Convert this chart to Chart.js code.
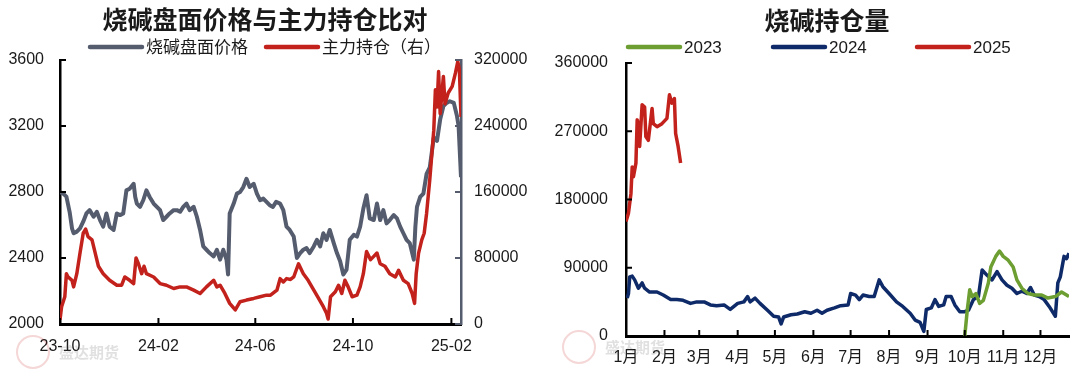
<!DOCTYPE html>
<html>
<head>
<meta charset="utf-8">
<script src="https://cdn.jsdelivr.net/npm/chart.js@4.4.1/dist/chart.umd.min.js"></script>
<style>
  html, body { margin: 0; padding: 0; background: #fff; }
  #wrap { position: relative; width: 1080px; height: 375px; }
  .box { position: absolute; top: 0; width: 540px; height: 375px; }
</style>
</head>
<body>
<div id="wrap">
  <div class="box" style="left:0"><canvas id="left" width="540" height="375"></canvas></div>
  <div class="box" style="left:540px"><canvas id="right" width="540" height="375"></canvas></div>
</div>
<script>
// left chart: days counted from 2023-10-01
const leftTickDays = [0, 123, 244, 366, 489];
const leftTickLabels = ['23-10', '24-02', '24-06', '24-10', '25-02'];

const priceDays = [0, 4, 8, 12, 15, 17, 21, 25, 29, 33, 37, 42, 46, 50, 54, 58, 62, 67, 71, 75,
  79, 83, 87, 92, 94, 96, 100, 104, 108, 112, 117, 121, 125, 129, 133, 137, 142, 146, 150, 154,
  158, 162, 167, 171, 175, 179, 183, 187, 192, 196, 200, 204, 208, 210, 212, 217, 221, 225, 229, 233,
  237, 242, 246, 250, 254, 258, 262, 266, 270, 275, 279, 283, 287, 292, 296, 300, 304, 308, 312, 317,
  321, 325, 329, 333, 337, 342, 346, 350, 354, 358, 362, 367, 371, 375, 379, 383, 387, 392, 396, 400,
  404, 408, 412, 417, 421, 425, 429, 433, 437, 442, 444, 446, 450, 454, 458, 462, 467, 471, 475, 479,
  483, 487, 492, 496, 498, 501];
const priceValues = [2800, 2790, 2772, 2680, 2580, 2550, 2560, 2580, 2620, 2670, 2690, 2650, 2680, 2630, 2590, 2670, 2590, 2570, 2670, 2660,
  2670, 2810, 2820, 2850, 2770, 2730, 2710, 2750, 2810, 2770, 2730, 2710, 2690, 2630, 2650, 2670, 2690, 2690, 2680, 2710,
  2730, 2690, 2710, 2650, 2570, 2470, 2450, 2430, 2410, 2450, 2390, 2450, 2390, 2300, 2670, 2730, 2790, 2800, 2830, 2880,
  2830, 2850, 2790, 2750, 2760, 2740, 2720, 2710, 2740, 2730, 2690, 2590, 2570, 2530, 2400, 2430, 2450, 2460, 2430, 2470,
  2510, 2470, 2550, 2510, 2570, 2490, 2430, 2380, 2300, 2330, 2510, 2540, 2530, 2590, 2700, 2780, 2640, 2630, 2730, 2630,
  2690, 2610, 2630, 2660, 2640, 2590, 2550, 2510, 2490, 2390, 2590, 2710, 2770, 2790, 2910, 2950, 3130, 3110, 3240, 3320,
  3340, 3350, 3340, 3260, 3200, 2890];

const oiDays = [0, 2, 6, 8, 10, 15, 17, 21, 25, 29, 32, 35, 40, 44, 48, 54, 62, 71, 77, 81,
  87, 92, 95, 98, 102, 105, 108, 117, 125, 133, 142, 150, 158, 167, 175, 183, 192, 196, 200, 206,
  212, 219, 225, 233, 242, 250, 258, 263, 271, 275, 279, 283, 288, 292, 298, 304, 310, 316, 322, 329,
  333, 335, 338, 344, 348, 352, 356, 360, 365, 371, 375, 379, 383, 388, 392, 396, 400, 406, 412, 419,
  423, 429, 435, 440, 443, 445, 448, 452, 455, 458, 462, 467, 469, 471, 473, 475, 479, 481, 485, 490,
  494, 497, 499, 501];
const oiValues = [5000, 21000, 33000, 61000, 57000, 53000, 45000, 61000, 86000, 110000, 115000, 106000, 102000, 86000, 70000, 61000, 53000, 47000, 47000, 57000,
  53000, 49000, 80000, 73000, 61000, 70000, 61000, 57000, 49000, 47000, 43000, 45000, 45000, 41000, 37000, 45000, 53000, 45000, 47000, 37000,
  25000, 17000, 27000, 29000, 31000, 33000, 35000, 35000, 41000, 55000, 51000, 55000, 54000, 57000, 73000, 61000, 53000, 43000, 33000, 21000,
  13000, 6000, 33000, 39000, 47000, 37000, 53000, 45000, 33000, 35000, 45000, 61000, 88000, 78000, 82000, 86000, 73000, 70000, 61000, 57000,
  65000, 53000, 49000, 37000, 25000, 61000, 86000, 102000, 110000, 134000, 175000, 235000, 284000, 263000, 306000, 255000, 300000, 267000, 280000, 288000,
  304000, 318000, 308000, 251000];

// right chart: day of year
const monthDays = [0, 31, 59, 90, 120, 151, 181, 212, 243, 273, 304, 334];
const monthLabels = ['1月', '2月', '3月', '4月', '5月', '6月', '7月', '8月', '9月', '10月', '11月', '12月'];

const days2023 = [273, 275, 277, 279, 282, 285, 288, 292, 294, 298, 301, 304, 308, 312, 315, 319, 324, 329, 335, 340, 346, 351, 355, 357];
const values2023 = [0, 34000, 61000, 52000, 56000, 43000, 47000, 70000, 91000, 105000, 112000, 105000, 100000, 91000, 74000, 63000, 56000, 54000, 54000, 50000, 52000, 58000, 54000, 52000];

const days2024 = [1, 2, 3, 5, 7, 10, 13, 15, 19, 25, 30, 36, 41, 46, 52, 57, 63, 68, 73, 79,
  84, 90, 95, 98, 100, 104, 108, 114, 119, 123, 125, 127, 133, 138, 144, 149, 154, 158, 162, 168,
  173, 179, 181, 185, 188, 191, 196, 200, 204, 207, 212, 218, 223, 229, 233, 237, 240, 242, 246, 249,
  252, 256, 258, 262, 265, 269, 273, 276, 280, 284, 287, 291, 295, 299, 303, 307, 311, 315, 319, 323,
  326, 329, 333, 337, 341, 346, 348, 350, 353, 355, 357];
const values2024 = [50000, 56000, 78000, 79000, 74000, 63000, 70000, 63000, 58000, 58000, 54000, 48000, 48000, 47000, 43000, 45000, 45000, 41000, 40000, 41000,
  35000, 43000, 45000, 52000, 45000, 50000, 43000, 34000, 26000, 25000, 16000, 25000, 28000, 29000, 32000, 30000, 34000, 30000, 34000, 37000,
  40000, 41000, 56000, 54000, 48000, 54000, 52000, 52000, 74000, 65000, 56000, 45000, 39000, 30000, 21000, 18000, 6000, 35000, 37000, 48000,
  39000, 41000, 52000, 52000, 41000, 32000, 32000, 34000, 48000, 52000, 87000, 80000, 74000, 85000, 74000, 67000, 63000, 56000, 59000, 56000,
  64000, 54000, 52000, 48000, 39000, 26000, 70000, 78000, 105000, 102000, 109000];

const days2025 = [0, 2, 4, 5, 6, 8, 9, 10, 11, 13, 15, 16, 18, 21, 22, 25, 29, 33, 35, 37, 39, 40, 42, 44];
const values2025 = [151000, 162000, 188000, 223000, 210000, 228000, 285000, 280000, 250000, 305000, 302000, 263000, 258000, 300000, 280000, 276000, 280000, 287000, 318000, 307000, 313000, 267000, 250000, 228000];

const GRAY = '#545c6e';
const RED = '#c2221b';
const NAVY = '#0e2a68';
const GREEN = '#6c9e31';
const TEXT = '#1a1a1a';
const tickFont = { family: '"Liberation Sans", "Noto Sans CJK SC", sans-serif', size: 16 };

const toPoints = (xs, ys) => xs.map((x, i) => ({ x: x, y: ys[i] }));

// title, legend and faint watermark, drawn at fixed spots
const headerPlugin = {
  id: 'header',
  afterDraw(chart, args, opts) {
    const { ctx } = chart;
    ctx.save();
    ctx.fillStyle = TEXT;
    ctx.textBaseline = 'middle';
    ctx.textAlign = 'center';
    ctx.font = 'bold 25px "Noto Sans CJK SC", sans-serif';
    ctx.fillText(opts.title, opts.titleX, opts.titleY);

    ctx.textAlign = 'left';
    ctx.font = '17px "Liberation Sans", "Noto Sans CJK SC", sans-serif';
    for (const item of opts.legend) {
      ctx.strokeStyle = item.color;
      ctx.lineWidth = 4.5;
      ctx.lineCap = 'round';
      ctx.beginPath();
      ctx.moveTo(item.x, opts.legendY);
      ctx.lineTo(item.x + 52, opts.legendY);
      ctx.stroke();
      ctx.fillText(item.text, item.x + 56, opts.legendY + 1);
    }

    const wm = opts.mark;
    ctx.globalAlpha = 0.18;
    ctx.strokeStyle = RED;
    ctx.lineWidth = 2;
    ctx.beginPath();
    ctx.arc(wm.x, wm.y, 16, 0, Math.PI * 2);
    ctx.stroke();
    ctx.fillStyle = '#555';
    ctx.font = 'bold 15px "Noto Sans CJK SC", sans-serif';
    ctx.fillText('盛达期货', wm.x + 26, wm.y);
    ctx.restore();
  },
};

// tick marks pointing into the plot
const innerTicks = {
  id: 'innerTicks',
  afterDraw(chart) {
    const { ctx, chartArea } = chart;
    ctx.save();
    ctx.lineWidth = 2;
    for (const scale of Object.values(chart.scales)) {
      ctx.strokeStyle = scale.options.border.color;
      for (const t of scale.ticks) {
        const p = scale.getPixelForValue(t.value);
        ctx.beginPath();
        if (scale.isHorizontal()) {
          ctx.moveTo(p, chartArea.bottom);
          ctx.lineTo(p, chartArea.bottom - 6);
        } else if (scale.position === 'left') {
          ctx.moveTo(chartArea.left, p);
          ctx.lineTo(chartArea.left + 6, p);
        } else {
          ctx.moveTo(chartArea.right, p);
          ctx.lineTo(chartArea.right - 6, p);
        }
        ctx.stroke();
      }
    }
    ctx.restore();
  },
};

Chart.defaults.color = TEXT;
Chart.defaults.font = tickFont;

new Chart(document.getElementById('left'), {
  type: 'line',
  data: {
    datasets: [
      {
        label: '主力持仓（右）',
        data: toPoints(oiDays, oiValues),
        yAxisID: 'y1',
        borderColor: RED,
        borderWidth: 3.5,
        order: 0,
      },
      {
        label: '烧碱盘面价格',
        data: toPoints(priceDays, priceValues),
        yAxisID: 'y',
        borderColor: GRAY,
        borderWidth: 4,
        order: 1,
      },
    ],
  },
  options: {
    responsive: false,
    animation: false,
    layout: { padding: { top: 60 } },
    elements: { point: { radius: 0 }, line: { tension: 0, borderJoinStyle: 'round' } },
    plugins: {
      legend: { display: false },
      tooltip: { enabled: false },
      header: {
        title: '烧碱盘面价格与主力持仓比对',
        titleX: 265,
        titleY: 19,
        legendY: 47,
        legend: [
          { text: '烧碱盘面价格', color: GRAY, x: 90 },
          { text: '主力持仓（右）', color: RED, x: 266 },
        ],
        mark: { x: 33, y: 352 },
      },
    },
    scales: {
      x: {
        type: 'linear',
        min: 0,
        max: 501,
        grid: { display: false, drawTicks: false },
        border: { color: '#000', width: 3 },
        afterBuildTicks: (s) => {
          s.ticks = leftTickDays.map((v) => ({ value: v }));
        },
        afterFit: (s) => {
          s.height = 51;
        },
        ticks: {
          padding: 13,
          autoSkip: false,
          maxRotation: 0,
          callback: (v, i) => leftTickLabels[i],
        },
      },
      y: {
        position: 'left',
        min: 2000,
        max: 3600,
        grid: { display: false, drawTicks: false },
        border: { color: '#000', width: 2.5 },
        afterFit: (s) => {
          s.width = 60;
        },
        ticks: { stepSize: 400, padding: 16, callback: (v) => String(v) },
      },
      y1: {
        position: 'right',
        min: 0,
        max: 320000,
        grid: { display: false, drawTicks: false },
        border: { color: GRAY, width: 2.5 },
        afterFit: (s) => {
          s.width = 79;
        },
        ticks: { stepSize: 80000, padding: 13, callback: (v) => String(v) },
      },
    },
  },
  plugins: [headerPlugin, innerTicks],
});

new Chart(document.getElementById('right'), {
  type: 'line',
  data: {
    datasets: [
      { label: '2025', data: toPoints(days2025, values2025), borderColor: RED, borderWidth: 3.5, order: 0 },
      { label: '2023', data: toPoints(days2023, values2023), borderColor: GREEN, borderWidth: 3.5, order: 1 },
      { label: '2024', data: toPoints(days2024, values2024), borderColor: NAVY, borderWidth: 3.5, order: 2 },
    ],
  },
  options: {
    responsive: false,
    animation: false,
    layout: { padding: { top: 63, right: 11 } },
    elements: { point: { radius: 0 }, line: { tension: 0, borderJoinStyle: 'round' } },
    plugins: {
      legend: { display: false },
      tooltip: { enabled: false },
      header: {
        title: '烧碱持仓量',
        titleX: 287,
        titleY: 20,
        legendY: 47,
        legend: [
          { text: '2023', color: GREEN, x: 88 },
          { text: '2024', color: NAVY, x: 233 },
          { text: '2025', color: RED, x: 377 },
        ],
        mark: { x: 39, y: 347 },
      },
    },
    scales: {
      x: {
        type: 'linear',
        min: 0,
        max: 357,
        grid: { display: false, drawTicks: false },
        border: { color: '#000', width: 3 },
        afterBuildTicks: (s) => {
          s.ticks = monthDays.map((v) => ({ value: v }));
        },
        afterFit: (s) => {
          s.height = 39;
        },
        ticks: {
          padding: 12,
          autoSkip: false,
          maxRotation: 0,
          callback: (v, i) => monthLabels[i],
        },
      },
      y: {
        position: 'left',
        min: 0,
        max: 360000,
        grid: { display: false, drawTicks: false },
        border: { color: '#000', width: 2.5 },
        afterFit: (s) => {
          s.width = 86;
        },
        ticks: { stepSize: 90000, padding: 18, callback: (v) => String(v) },
      },
    },
  },
  plugins: [headerPlugin, innerTicks],
});
</script>
</body>
</html>
